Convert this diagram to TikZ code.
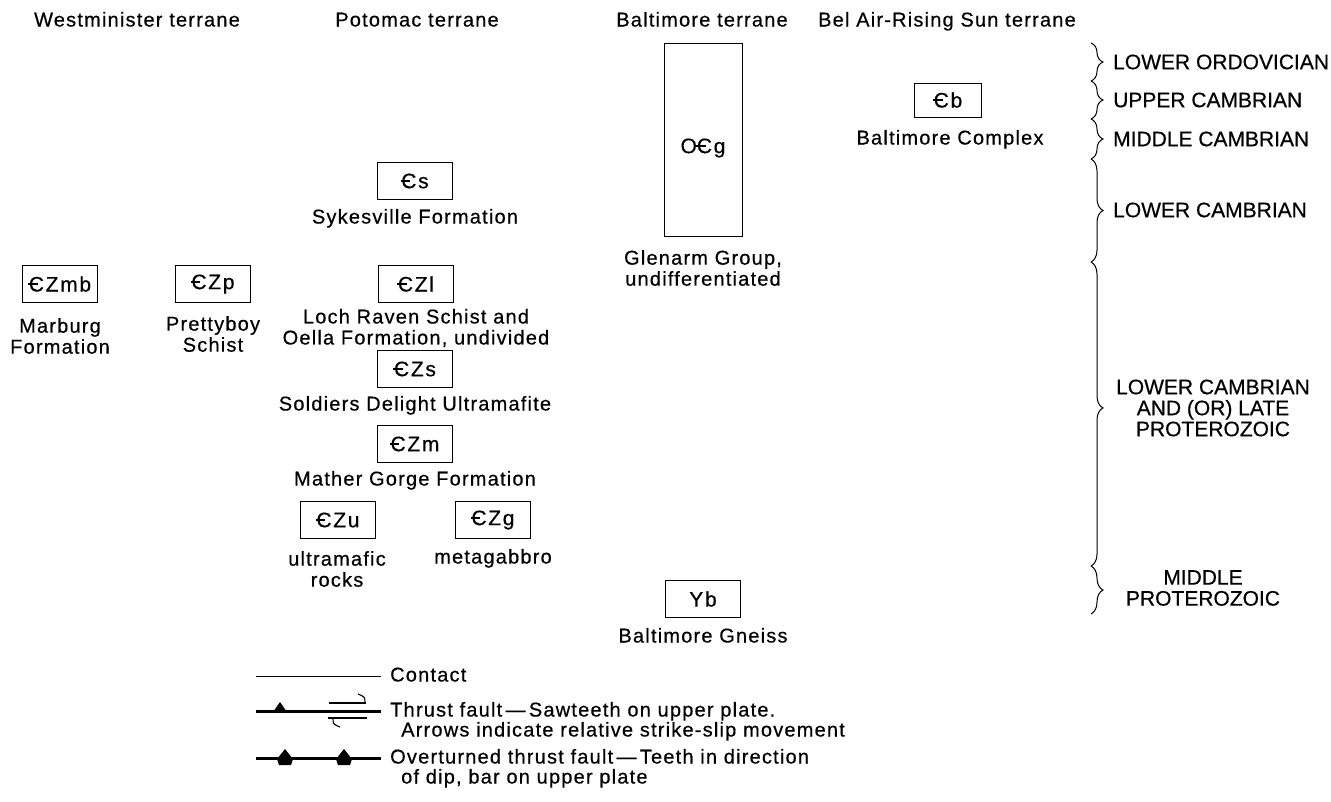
\documentclass[tikz,border=0pt]{standalone}
\usepackage{fontspec}
\setmainfont{Liberation Sans}[FakeBold=0.5]
\newfontfamily\spaced{Liberation Sans}[LetterSpace=6,FakeBold=0.5]
\newfontfamily\boxfont{Liberation Sans}[LetterSpace=8,FakeBold=0.5]
\usetikzlibrary{decorations.pathreplacing}
\newcommand\Cb{\makebox[0pt][l]{\kern-0.03em\rule[0.31em]{0.45em}{0.08em}}C}
\begin{document}
\begin{tikzpicture}[x=1pt,y=-1pt,
  every node/.style={inner sep=0pt, font=\spaced\fontsize{20}{21}\selectfont},
  unit/.style={draw, line width=1pt, minimum width=75pt, minimum height=37pt,
    font=\boxfont\fontsize{21}{21}\selectfont},
  lbl/.style={align=center, text height=15pt, text depth=4pt},
  mlbl/.style={align=center},
  legl/.style={anchor=west, text height=15pt, text depth=4pt},
  age/.style={font=\fontsize{21}{21}\selectfont, align=center},
  brc/.style={decorate, decoration={brace, amplitude=12pt}, line width=1pt},
  thick line/.style={line width=3pt},
  ]
\useasboundingbox (0,0) rectangle (1331,801);
% headers
\node[lbl] (hW) at (137,21) {Westminister terrane};
\node[lbl] (hP) at (417,21) {Potomac terrane};
\node[lbl] (hB) at (702,21) {Baltimore terrane};
\node[lbl] (hR) at (947,21) {Bel Air-Rising Sun terrane};
% Baltimore terrane
\node[unit, minimum width=78pt, minimum height=193pt] (Og) at (703,140) {};
\node[font=\boxfont\fontsize{21}{21}\selectfont] (Ogt) at (703,148) {O\Cb g};
\node[mlbl] (Oglab) at (703,268) {Glenarm Group,\\undifferentiated};
\node[unit] (Yb) at (703,599) {Yb};
\node[lbl] (Yblab) at (703,637) {Baltimore Gneiss};
% Bel Air
\node[unit, minimum width=67pt, minimum height=34pt] (Cb) at (948,100) {\Cb b};
\node[lbl] (Cblab) at (950,139) {Baltimore Complex};
% Potomac
\node[unit] (Cs) at (415,181) {\Cb s};
\node[lbl] (Cslab) at (415,218) {Sykesville Formation};
\node[unit] (CZl) at (416,284) {\Cb Zl};
\node[mlbl] (CZllab) at (416,328) {Loch Raven Schist and\\Oella Formation, undivided};
\node[unit] (CZs) at (415,369) {\Cb Zs};
\node[lbl] (CZslab) at (415,405) {Soldiers Delight Ultramafite};
\node[unit] (CZm) at (415,444) {\Cb Zm};
\node[lbl] (CZmlab) at (415,480) {Mather Gorge Formation};
\node[unit] (CZu) at (338,520) {\Cb Zu};
\node[mlbl] (CZulab) at (337,569) {ultramafic\\rocks};
\node[unit] (CZg) at (493,520) {\Cb Zg};
\node[lbl] (CZglab) at (493,558) {metagabbro};
% Westminister
\node[unit] (CZmb) at (60,284) {\Cb Zmb};
\node[mlbl] (CZmblab) at (60,336) {Marburg\\Formation};
\node[unit] (CZp) at (213,284) {\Cb Zp};
\node[mlbl] (CZplab) at (213,334) {Prettyboy\\Schist};
% braces
\coordinate (b0) at (1091,43);
\coordinate (b1) at (1091,81);
\coordinate (b2) at (1091,119);
\coordinate (b3) at (1091,159);
\coordinate (b4) at (1091,262);
\coordinate (b5) at (1091,566);
\coordinate (b6) at (1091,614);
\draw[brc] (b0) -- (b1);
\draw[brc] (b1) -- (b2);
\draw[brc] (b2) -- (b3);
\draw[brc] (b3) -- (b4);
\draw[brc, decoration={brace, amplitude=12pt, aspect=0.48}] (b4) -- (b5);
\draw[brc] (b5) -- (b6);
\node[age, anchor=west] (a1) at (1113,62) {LOWER ORDOVICIAN};
\node[age, anchor=west] (a2) at (1113,100) {UPPER CAMBRIAN};
\node[age, anchor=west] (a3) at (1113,139) {MIDDLE CAMBRIAN};
\node[age, anchor=west] (a4) at (1113,210) {LOWER CAMBRIAN};
\node[age] (a5) at (1213,408) {LOWER CAMBRIAN\\AND (OR) LATE\\PROTEROZOIC};
\node[age] (a6) at (1203,588) {MIDDLE\\PROTEROZOIC};
% legend
\coordinate (c0) at (256,676);
\coordinate (c1) at (381,676);
\draw[line width=0.9pt] (c0) -- (c1);
\node[legl] (lc) at (390,676) {Contact};
\coordinate (t0) at (256,711);
\coordinate (t1) at (381,711);
\draw[thick line] (t0) -- (t1);
\fill (273,712) -- (280,702) -- (287,712) -- cycle;
\draw[line width=1.1pt] (329,703) -- (366,703);
\draw[line width=1.1pt] (365,703) .. controls (365,697) .. (358,694);
\draw[line width=1.1pt] (328,718) -- (367,718);
\draw[line width=1.1pt] (333,718) .. controls (333,724) .. (340,727);
\node[legl] (lt) at (390,711) {Thrust fault\,—\,Sawteeth on upper plate.};
\node[legl] (lt2) at (401,731) {Arrows indicate relative strike-slip movement};
\coordinate (o0) at (256,758);
\coordinate (o1) at (381,758);
\draw[thick line] (o0) -- (o1);
\foreach \tx in {285,344}{
  \fill (\tx-8,759) -- (\tx,749) -- (\tx+8,759) -- (\tx+6,765) -- (\tx-6,765) -- cycle;
}
\node[legl] (lo) at (390,758) {Overturned thrust fault\,—\,Teeth in direction};
\node[legl] (lo2) at (401,778) {of dip, bar on upper plate};
\end{tikzpicture}
\end{document}
